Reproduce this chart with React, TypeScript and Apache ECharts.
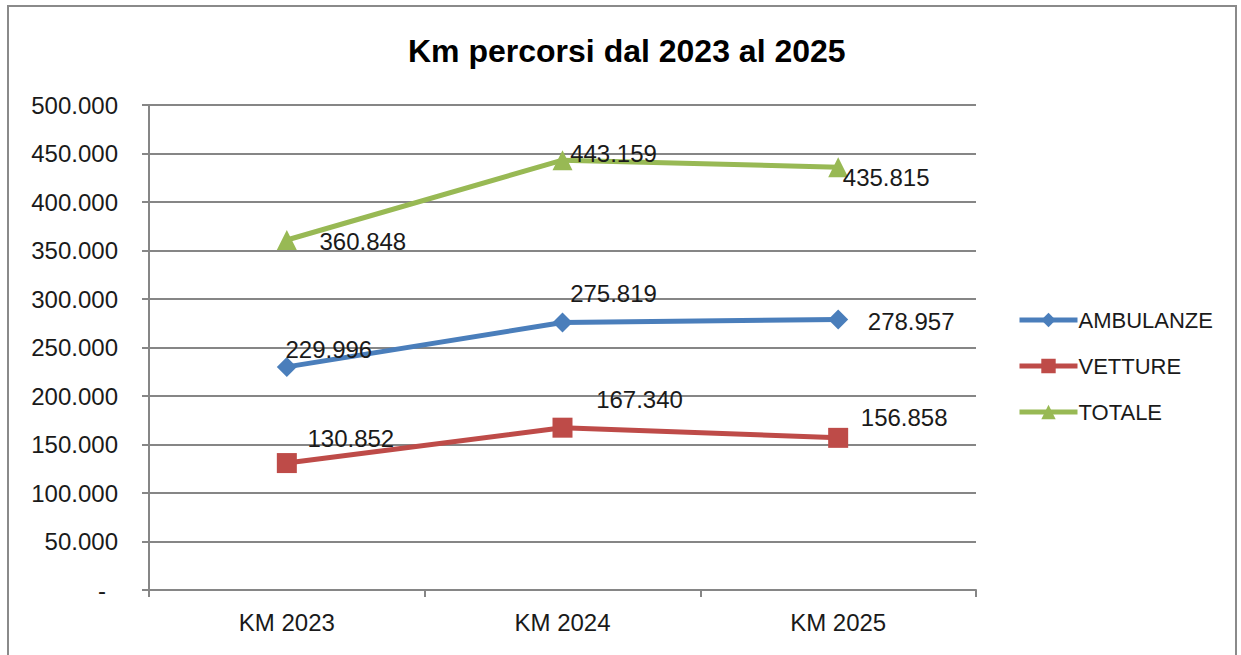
import React, { useEffect, useRef } from "react";
import * as echarts from "echarts";

const categories = ["KM 2023", "KM 2024", "KM 2025"];
const ambulanze = [229996, 275819, 278957];
const vetture = [130852, 167340, 156858];
const totale = [360848, 443159, 435815];
const seriesNames = ["AMBULANZE", "VETTURE", "TOTALE"];

// label offsets (label centre minus point), per series/point
const ambOffsets = [[42, -17], [51, -29], [73, 2]];
const vetOffsets = [[64, -25], [77, -28], [66, -20]];
const totOffsets = [[76, 2], [51, -7], [48, 10]];

const FONT = "'Liberation Sans', Arial, sans-serif";

function fmt(v: number): string {
  if (v === 0) return "-";
  return Math.round(v).toString().replace(/\B(?=(\d{3})+(?!\d))/g, ".");
}

function makeData(values: number[], offsets: number[][]) {
  return values.map((v, i) => ({
    value: v,
    label: { offset: offsets[i] },
  }));
}

export default function App() {
  const ref = useRef<HTMLDivElement>(null);
  useEffect(() => {
    document.body.style.margin = "0";
    if (!ref.current) return;
    const chart = echarts.init(ref.current, null, { renderer: "svg" });
    const labelCfg = {
      show: true,
      position: "inside",
      align: "center",
      verticalAlign: "middle",
      color: "#1a1a1a",
      fontSize: 24,
      fontFamily: FONT,
      formatter: (p: any) => fmt(p.value),
    };
    chart.setOption({
      animation: false,
      backgroundColor: "#ffffff",
      title: {
        text: "Km percorsi dal 2023 al 2025",
        left: 403,
        top: 30,
        textStyle: {
          fontFamily: FONT,
          fontWeight: "bold",
          fontSize: 32,
          color: "#000000",
        },
      },
      graphic: [
        {
          type: "rect",
          shape: { x: 8, y: 6, width: 1228, height: 670 },
          style: { fill: "none", stroke: "#8a8a8a", lineWidth: 2 },
          silent: true,
        },
      ],
      legend: {
        orient: "vertical",
        left: 1012,
        top: 304,
        itemWidth: 58,
        itemHeight: 18,
        itemGap: 24,
        data: seriesNames,
        lineStyle: { width: 5 },
        textStyle: {
          fontFamily: FONT,
          fontSize: 22,
          color: "#1a1a1a",
          padding: [0, 0, 0, -4],
        },
      },
      grid: { left: 149, top: 105, right: 265, bottom: 65, containLabel: false },
      xAxis: {
        type: "category",
        data: categories,
        boundaryGap: true,
        axisLine: { show: true, lineStyle: { color: "#868686", width: 2 } },
        axisTick: { show: true, interval: 0, length: 7, lineStyle: { color: "#868686", width: 2 } },
        axisLabel: { margin: 20, color: "#1a1a1a", fontSize: 24, fontFamily: FONT },
        splitLine: { show: false },
      },
      yAxis: {
        type: "value",
        min: 0,
        max: 500000,
        interval: 50000,
        axisLine: { show: true, lineStyle: { color: "#868686", width: 2 } },
        axisTick: { show: true, length: 7, lineStyle: { color: "#868686", width: 2 } },
        axisLabel: {
          margin: 31,
          color: "#1a1a1a",
          fontSize: 24,
          fontFamily: FONT,
          formatter: (v: number) => (v === 0 ? "{d|-}" : fmt(v)),
          rich: { d: { fontSize: 24, fontFamily: FONT, color: "#1a1a1a", padding: [0, 12, 0, 0] } },
        },
        splitLine: { show: true, lineStyle: { color: "#868686", width: 2 } },
      },
      series: [
        {
          name: seriesNames[0],
          type: "line",
          data: makeData(ambulanze, ambOffsets),
          symbol: "diamond",
          symbolSize: 20,
          lineStyle: { color: "#4a7ebb", width: 5 },
          itemStyle: { color: "#4a7ebb" },
          label: labelCfg,
          z: 3,
        },
        {
          name: seriesNames[1],
          type: "line",
          data: makeData(vetture, vetOffsets),
          symbol: "rect",
          symbolSize: 20,
          lineStyle: { color: "#be4b48", width: 5 },
          itemStyle: { color: "#be4b48" },
          label: labelCfg,
          z: 4,
        },
        {
          name: seriesNames[2],
          type: "line",
          data: makeData(totale, totOffsets),
          symbol: "triangle",
          symbolSize: 20,
          lineStyle: { color: "#98b954", width: 5 },
          itemStyle: { color: "#98b954" },
          label: labelCfg,
          z: 5,
        },
      ],
    });
    return () => chart.dispose();
  }, []);
  return <div ref={ref} style={{ width: 1241, height: 655 }} />;
}
